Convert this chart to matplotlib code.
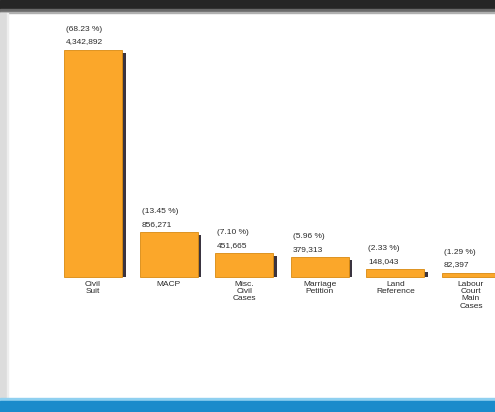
import matplotlib
matplotlib.use("Agg")
import matplotlib.pyplot as plt
from matplotlib.patches import Rectangle
import numpy as np

categories = ["Civil\nSuit", "MACP", "Misc.\nCivil\nCases", "Marriage\nPetition", "Land\nReference", "Labour\nCourt\nMain\nCases"]
values = [4342892, 856271, 451665, 379313, 148043, 82397]
percents = ["(68.23 %)", "(13.45 %)", "(7.10 %)", "(5.96 %)", "(2.33 %)", "(1.29 %)"]

W, H = 495, 412
fig = plt.figure(figsize=(W/100, H/100), dpi=100)
fig.patch.set_facecolor("white")

def frect(x0, y0, x1, y1, color, z=0, alpha=1.0):
    fig.patches.append(Rectangle((x0/W, 1 - y1/H), (x1-x0)/W, (y1-y0)/H,
                                 transform=fig.transFigure, color=color, zorder=z, alpha=alpha))

frect(0, 0, W, 9, "#262626")
frect(0, 9, W, 12, "#6a6a6a")
frect(0, 12, W, 13, "#b0b0b0")
frect(0, 13, 7, 400, "#dcdcdc")
frect(7, 13, 8, 400, "#eeeeee")
frect(0, 398, W, 401, "#8fd0f0")
frect(0, 401, W, H, "#1a8bcb")

px_per_unit = 75.6
x0px = 93
base_px = 277
top_px = 12
bot_px = 398
scale = values[0] / 227.0

ax = fig.add_axes([0, 1 - bot_px/H, 1, (bot_px - top_px)/H])
ax.set_xlim(-x0px/px_per_unit, (W - x0px)/px_per_unit)
ax.set_ylim(-(bot_px - base_px)*scale, (base_px - top_px)*scale)
ax.axis("off")
ax.patch.set_alpha(0)

x = np.arange(len(values))
bw = 58/px_per_unit
sh = 4/px_per_unit
ax.bar(x + sh*0.9, np.array(values) - 3*scale, width=bw, color="#3a3440", zorder=2)
ax.bar(x, values, width=bw, color="#fba72a", edgecolor="#d98a10", linewidth=0.6, zorder=3)

font = "Liberation Sans"
tc = "#2a2a2a"
for xi, v, p, c in zip(x, values, percents, categories):
    left = xi - bw/2 + 2/px_per_unit
    ax.text(left, v + 20.5*scale, p, fontsize=6, family=font, ha="left", va="center", color=tc)
    ax.text(left, v + 8*scale, f"{v:,}", fontsize=6, family=font, ha="left", va="center", color=tc)
    ax.text(xi, -4*scale, c, fontsize=6, family=font, ha="center", va="top", color=tc, linespacing=1.05)

fig.savefig("out.png", dpi=100)
